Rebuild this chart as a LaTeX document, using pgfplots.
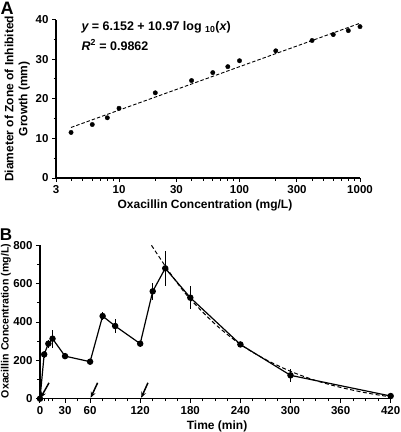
\documentclass[border=0pt]{standalone}
\usepackage{pgfplots}
\pgfplotsset{compat=1.18}
\usetikzlibrary{arrows.meta}
\usepackage{fontspec}
\setmainfont{Liberation Sans}
\begin{document}
\begin{tikzpicture}[x=1pt,y=1pt]
\path[use as bounding box] (0,0) rectangle (400,-432);
\pgfplotsset{
 every axis/.append style={
  scale only axis, axis lines=left,
  axis line style={line width=1.2pt,-},
  every tick/.style={line width=1pt, black},
  tick align=outside,
  major tick length=4pt, minor tick length=2.5pt,
  tick label style={font=\bfseries\fontsize{11.5}{13}\selectfont},
  label style={font=\bfseries\fontsize{12}{14}\selectfont},
  /pgf/number format/assume math mode=true,
 }}
% Panel A
\begin{axis}[at={(56pt,-178pt)}, anchor=south west, width=304pt, height=158.5pt,
 xmode=log, xmin=3, xmax=1000, ymin=0, ymax=40,
 xtick={3,10,30,100,300,1000}, xticklabels={3,10,30,100,300,1000},
 minor xtick={4,5,6,7,8,9,20,40,50,60,70,80,90,200,400,500,600,700,800,900},
 ytick={0,10,20,30,40}, minor ytick={5,15,25,35},
 xlabel={Oxacillin Concentration (mg/L)},
 xlabel style={at={(axis description cs:0.49,-0.17)}, anchor=center},
 ylabel={Diameter of Zone of Inhibited\\Growth (mm)},
 ylabel style={at={(axis description cs:-0.127,0.5)}, anchor=center, align=center, rotate=0},
 clip=false]
\addplot[only marks, mark=*, mark size=2.2pt, black] coordinates {
(4,11.5) (6,13.5) (8,15.2) (10,17.6) (20,21.5) (40,24.6) (60,26.6) (80,28.1)
(100,29.6) (200,32.1) (400,34.7) (600,36.2) (800,37.2) (1000,38.2)};
\addplot[black, line width=0.9pt, dash pattern=on 3.5pt off 2pt] coordinates {
(4,12.76) (1000,39.06)};
\end{axis}
\node[anchor=west, font=\bfseries\fontsize{12.5}{14}\selectfont] at (78,-27) {{\itshape y} = 6.152 + 10.97 log \textsubscript{10}({\itshape x})};
\node[anchor=west, font=\bfseries\fontsize{12.5}{14}\selectfont] at (78,-45) {{\itshape R}\textsuperscript{2} = 0.9862};
\node[font=\bfseries\fontsize{18}{19}\selectfont] at (7,-8) {A};
% Panel B
\begin{axis}[at={(40pt,-398.7pt)}, anchor=south west, width=350.7pt, height=153.4pt,
 xmin=0, xmax=420, ymin=0, ymax=800,
 xtick={0,30,60,120,180,240,300,360,420},
 minor xtick={5,10,15,45,75,90,105,135,150,165,195,210,225,255,270,285,315,330,345,375,390,405},
 ytick={0,200,400,600,800}, minor ytick={100,300,500,700},
 xlabel={Time (min)},
 xlabel style={at={(axis description cs:0.505,-0.178)}, anchor=center},
 ylabel={Oxacillin Concentration (mg/L)},
 ylabel style={at={(axis description cs:-0.097,0.507)}, anchor=center, font=\bfseries\fontsize{10.6}{12}\selectfont},
 clip=false]
\addplot[black, line width=1.2pt, mark=*, mark size=2.6pt,
 error bars/.cd, y dir=both, y explicit, error mark=none,
 error bar style={line width=1.1pt}]
 table[x=t, y=c, y error=e] {
t c e
0 0 0
5 231 20
10 287 20
15 313 46
30 222 8
60 193 8
75 431 20
90 379 35
120 287 15
135 560 45
150 680 90
180 527 60
240 283 15
300 122 33
420 14 5
};
\addplot[black, line width=1pt, dash pattern=on 4pt off 2.5pt, smooth] coordinates {
(133.5,800) (150,692) (165,600) (180,519) (210,388) (240,283) (270,205)
(300,143) (330,95) (360,59) (390,31) (420,9)};
\draw[line width=1.5pt, -{Stealth[length=6pt,width=5pt]}] (axis cs:10.8,83) -- (axis cs:0.8,5);
\draw[line width=1.5pt, -{Stealth[length=6pt,width=5pt]}] (axis cs:69,83) -- (axis cs:60.7,5);
\draw[line width=1.5pt, -{Stealth[length=6pt,width=5pt]}] (axis cs:129.3,83) -- (axis cs:121.2,5);
\end{axis}
\node[font=\bfseries\fontsize{17}{18}\selectfont] at (6,-235) {B};
\end{tikzpicture}
\end{document}
